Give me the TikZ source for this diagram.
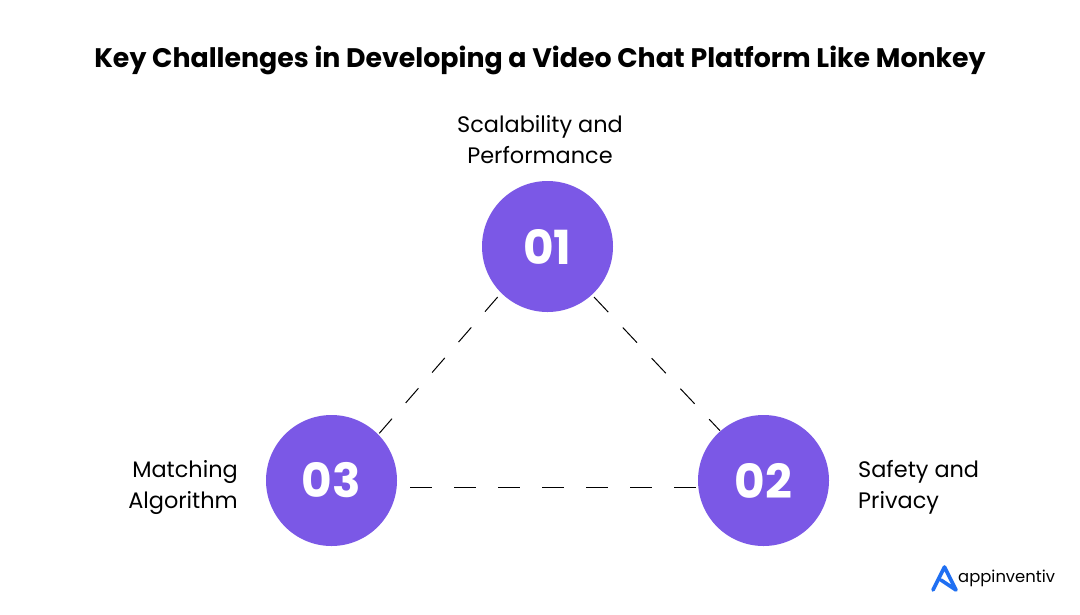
\documentclass[tikz,border=0pt]{standalone}
\usepackage{fontspec}
\setmainfont{Poppins}
\definecolor{vio}{HTML}{7B58E6}
\definecolor{logob}{HTML}{1F6FF2}
\tikzset{
 num/.style={circle,fill=vio,minimum size=131pt,inner sep=0pt,text=white,font=\fontsize{47}{47}\selectfont\bfseries},
 lab/.style={font=\fontsize{22.4}{31.5}\selectfont,text=black,inner sep=0pt},
 link/.style={draw=black,line width=1pt}
}
\begin{document}
\begin{tikzpicture}[x=1pt,y=-1pt]
\useasboundingbox (0,0) rectangle (1080,614);
\fill[white] (0,0) rectangle (1080,614);
\node[inner sep=0pt,font=\fontsize{26.8}{34}\selectfont\bfseries] (title) at (540,60.5) {Key Challenges in Developing a Video Chat Platform Like Monkey};
\node[num] (n1) at (547.5,246.5) {01};
\node[num] (n2) at (763.5,480.5) {02};
\node[num] (n3) at (331.5,480.5) {03};
\node[lab,align=center] (l1) at (540,139.7) {Scalability and\\Performance};
\node[lab,align=left,anchor=west] (l2) at (858,487.5) {Safety and\\Privacy};
\node[lab,align=right,anchor=east] (l3) at (238,487.5) {Matching\\Algorithm};
\coordinate (a1) at (497.7,297);
\coordinate (a3) at (379.3,433.3);
\coordinate (b1) at (594,297);
\coordinate (b2) at (720,430.7);
\coordinate (c3) at (410,487.5);
\coordinate (c2) at (698,487.5);
\draw[link,dash pattern=on 19.4pt off 20.9pt] (a1) -- (a3);
\draw[link,dash pattern=on 20.7pt off 21.3pt] (b1) -- (b2);
\draw[link,dash pattern=on 22pt off 22pt] (c3) -- (c2);
\draw[logob,line width=3.6pt,line cap=round,line join=round] (933,590) -- (944.5,567) -- (956,590) -- (941,580);
\node[inner sep=0pt,anchor=west,font=\fontsize{16.4}{20}\selectfont] (logo) at (958,578) {appinventiv};
\end{tikzpicture}
\end{document}
